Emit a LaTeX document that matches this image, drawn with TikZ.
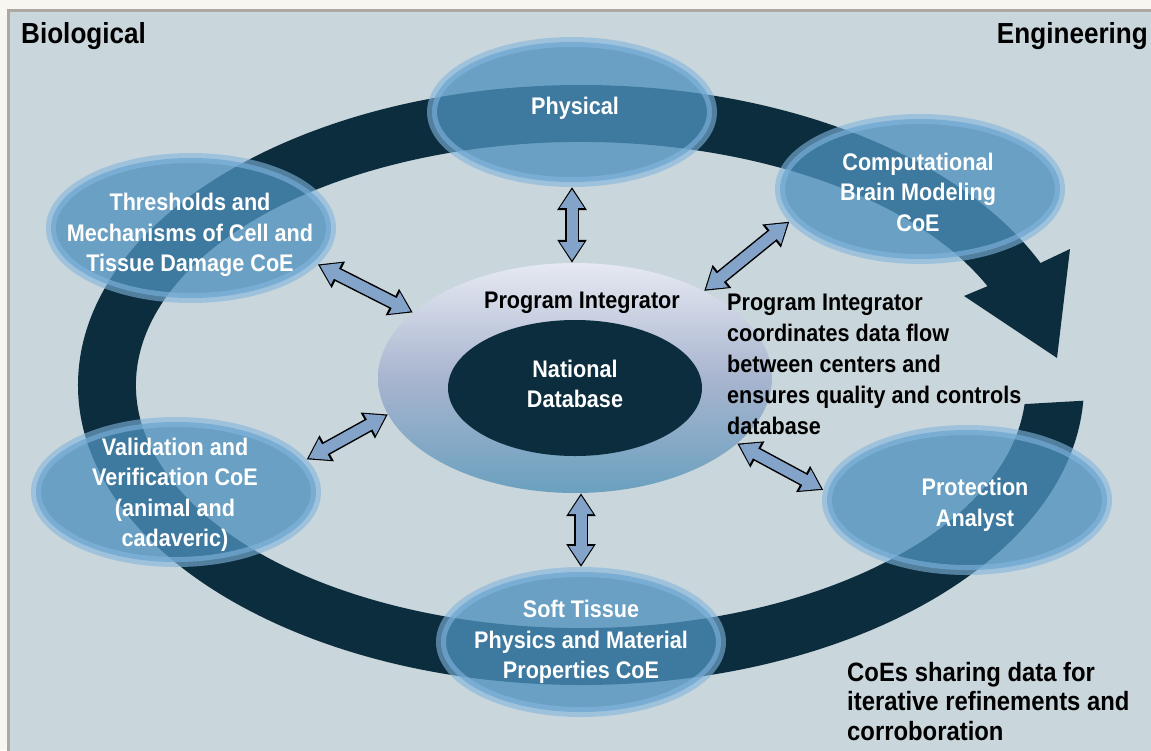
\documentclass[tikz,border=0pt]{standalone}
\usepackage{fontspec}
\setmainfont{Liberation Sans}[FakeStretch=0.9]
\usetikzlibrary{shapes.geometric,arrows.meta}

\definecolor{pagebg}{HTML}{F8F6F0}
\definecolor{panelbg}{HTML}{C9D6DB}
\definecolor{panelline}{HTML}{ADA9A2}
\definecolor{ringnavy}{HTML}{0B2D3E}
\definecolor{coecore}{RGB}{78,145,189}
\definecolor{coerim}{RGB}{131,182,222}
\definecolor{arrowfill}{RGB}{132,163,200}
\definecolor{pitop}{HTML}{E6E9F2}
\definecolor{pimid}{HTML}{A8B5CF}
\definecolor{pibot}{HTML}{6AA0BF}

\newcommand{\biarrow}[2]{%
  \draw[bilink] (#1) -- (#2);
  \draw[bilinkin] (#1) -- (#2);}

\begin{document}
\begin{tikzpicture}[x=1pt, y=-1pt,
    coe/.style={ellipse, minimum width=280pt, minimum height=140pt, inner sep=0pt,
      fill=coecore, fill opacity=0.77, draw=coerim, draw opacity=0.6, line width=10pt},
    coetext/.style={text=white, align=center, font=\fontsize{24}{30.5}\selectfont\bfseries},
    note/.style={align=left, anchor=north west, inner sep=0pt, font=\fontsize{24}{31}\selectfont\bfseries},
    head/.style={inner sep=0pt, font=\fontsize{29}{35}\selectfont\bfseries},
    bilink/.style={line width=14pt, draw=black,
      {Triangle[width=28pt,length=23pt]}-{Triangle[width=28pt,length=23pt]}},
    bilinkin/.style={line width=11pt, draw=arrowfill, shorten <=2.3pt, shorten >=2.3pt,
      {Triangle[width=23pt,length=18.5pt]}-{Triangle[width=23pt,length=18.5pt]}}]
  \useasboundingbox (0,0) rectangle (1151,750);
  \fill[pagebg] (0,0) rectangle (1151,750);
  \filldraw[fill=panelbg, draw=panelline, line width=3pt] (8,10) rectangle (1170,770);

  % ring of the CoEs
  \coordinate (ringc) at (581,385);
  \fill[ringnavy] (ringc) ++(3:503 and 300)
    arc[start angle=3, end angle=336, x radius=503, y radius=300]
    -- (1070,249) -- (1057,358) -- (964,296)
    -- ([shift={(336:445 and 243)}]ringc)
    arc[start angle=336, end angle=4.5, x radius=445, y radius=243] -- cycle;

  \node[coe] (phys) at (572,112) {};
  \node[coe] (comp) at (920,189) {};
  \node[coe] (thr) at (191,228) {};
  \node[coe] (val) at (176,492) {};
  \node[coe] (prot) at (967,500) {};
  \node[coe] (soft) at (581,642) {};

  % program integrator and database
  \node[ellipse, minimum width=394pt, minimum height=230pt, inner sep=0pt,
    top color=pitop, bottom color=pibot, middle color=pimid] (pi) at (575,378) {};
  \node[ellipse, minimum width=254pt, minimum height=136pt, inner sep=0pt,
    fill=ringnavy] (db) at (575,388) {};

  \biarrow{phys.south}{phys.south |- pi.north}
  \biarrow{soft.north}{soft.north |- pi.south}
  \biarrow{thr.-16}{pi.158}
  \biarrow{comp.194}{pi.34}
  \biarrow{val.14}{pi.191}
  \biarrow{prot.176}{pi.-22}

  \node[coetext] (phys-t) at (575,108) {Physical};
  \node[coetext] (comp-t) at (918,192) {Computational\\Brain Modeling\\CoE};
  \node[coetext] (thr-t) at (190,235) {Thresholds and\\Mechanisms of Cell and\\Tissue Damage CoE};
  \node[coetext] (val-t) at (175,495) {Validation and\\Verification CoE\\(animal and\\cadaveric)};
  \node[coetext] (prot-t) at (975,505) {Protection\\Analyst};
  \node[coetext] (soft-t) at (581,642) {Soft Tissue\\Physics and Material\\Properties CoE};
  \node[coetext, text=black] (pi-t) at (582,303) {Program Integrator};
  \node[coetext] (db-t) at (575,384) {National\\Database};

  \node[head, anchor=base west] (bio) at (21,43) {Biological};
  \node[head, anchor=base east] (eng) at (1148,43) {Engineering};
  \node[note] (pi-note) at (727,294) {Program Integrator\\coordinates data flow\\between centers and\\ensures quality and controls\\database};
  \node[note, font=\fontsize{26.5}{29.5}\selectfont\bfseries] (coe-note) at (847,662)
    {CoEs sharing data for\\iterative refinements and\\corroboration};
\end{tikzpicture}
\end{document}
